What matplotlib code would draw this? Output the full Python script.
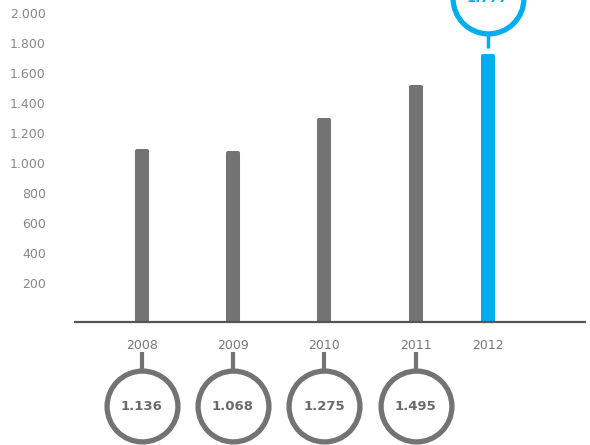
import matplotlib
matplotlib.use("Agg")
import matplotlib.pyplot as plt
import matplotlib.transforms as mtransforms

years = ["2008", "2009", "2010", "2011", "2012"]
bar_heights = [1140, 1127, 1347, 1567, 1773]
value_labels = ["1.136", "1.068", "1.275", "1.495", "1.777"]
ytick_values = [200, 400, 600, 800, 1000, 1200, 1400, 1600, 1800, 2000]
ytick_labels = ["200", "400", "600", "800", "1.000", "1.200", "1.400", "1.600", "1.800", "2.000"]

xpos = [0, 1.0, 2.0, 3.01, 3.8]
gray = "#737373"
blue = "#00AEEF"
colors = [gray, gray, gray, gray, blue]

fig = plt.figure(figsize=(5.9, 4.45), dpi=100)
W, H = 590, 445
ax = fig.add_axes([75 / W, (H - 322) / H, 510 / W, 322 / H])
ax.set_ylim(0, 322 / 0.15)
ax.set_xlim(-(142 - 75) / 91, (585 - 142) / 91)

bars = ax.bar(xpos, bar_heights, width=10 / 91, color=colors, edgecolor=colors,
              linewidth=2.9, joinstyle="round", zorder=2)

for s in ["top", "right", "left"]:
    ax.spines[s].set_visible(False)
ax.spines["bottom"].set_color("#555555")
ax.spines["bottom"].set_linewidth(1.6)
ax.spines["bottom"].set_zorder(3)

ax.set_xticks(xpos)
ax.set_xticklabels(years, color="#777777", fontsize=9)
ax.tick_params(axis="x", length=0, pad=12)
ax.set_yticks(ytick_values)
ax.set_yticklabels(ytick_labels, color="#888888", fontsize=9)
ax.tick_params(axis="y", length=0, pad=21)
off = mtransforms.ScaledTranslation(0, 0.09, fig.dpi_scale_trans)
for lab in ax.get_yticklabels():
    lab.set_transform(lab.get_transform() + off)

# bottom circles
for i in range(4):
    x = xpos[i]
    ax.plot([x, x], [-200, -320], color=gray, lw=3, clip_on=False, solid_capstyle="butt")
    ax.plot([x], [-560], marker="o", markersize=51, markerfacecolor="white",
            markeredgecolor=gray, markeredgewidth=3.8, clip_on=False, zorder=4)
    ax.text(x, -560, value_labels[i], ha="center", va="center", fontsize=9.5,
            fontweight="bold", color="#6a6a6a", zorder=5, clip_on=False)

# top circle for 2012
x = xpos[4]
ax.plot([x, x], [1913, 1827], color=blue, lw=2.5, clip_on=False, solid_capstyle="butt")
ax.plot([x], [2160], marker="o", markersize=51, markerfacecolor="white",
        markeredgecolor=blue, markeredgewidth=3.8, clip_on=False, zorder=4)
ax.text(x, 2160, value_labels[4], ha="center", va="center", fontsize=9.5,
        fontweight="bold", color=blue, zorder=5, clip_on=False)

fig.savefig("out.png", dpi=100)
